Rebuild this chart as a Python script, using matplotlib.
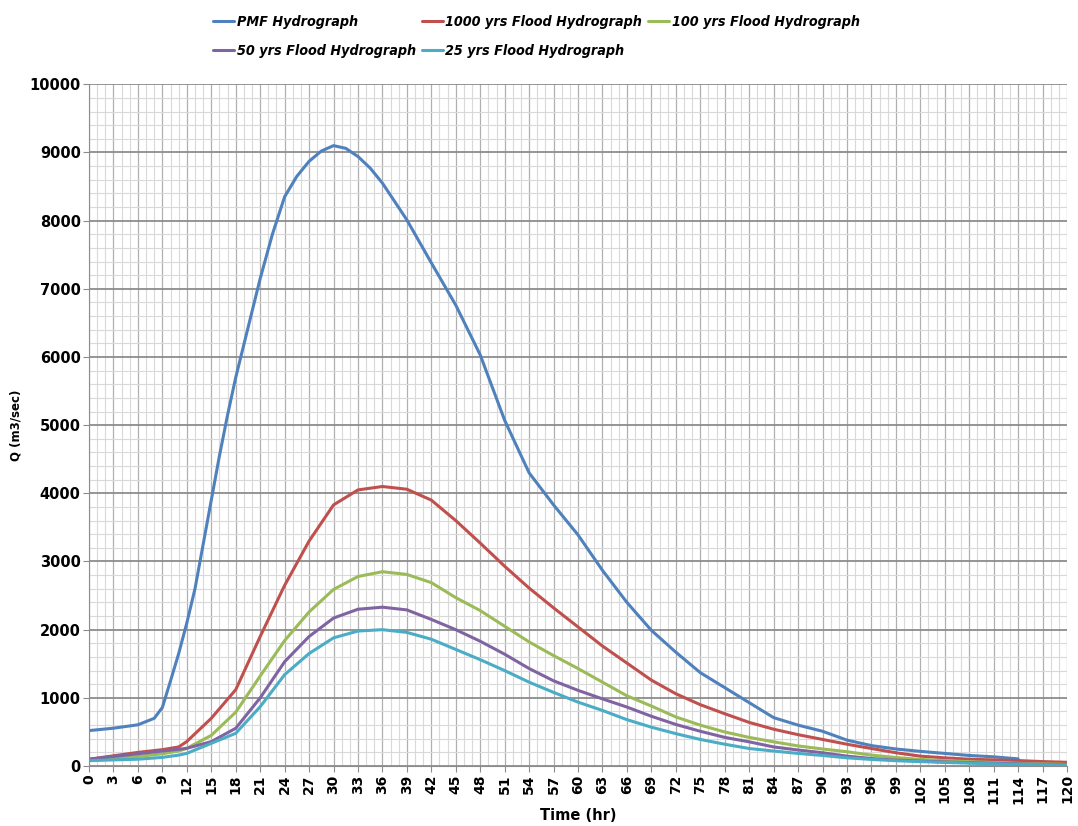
import matplotlib
matplotlib.use('Agg')
import matplotlib.pyplot as plt
import numpy as np

# readings (hr, m3/sec)
t_pmf = [0, 3, 6, 8, 9, 10, 11, 12, 13, 14, 15, 16, 17, 18, 21, 22.5, 24, 25.5,
         27, 28.5, 30, 31.5, 33, 34.5, 36, 39, 42, 45, 48, 51, 54, 57, 60, 63, 66,
         69, 72, 75, 78, 81, 84, 87, 90, 93, 96, 99, 102, 105, 108, 111, 114]
q_pmf = [520, 555, 605, 700, 860, 1250, 1650, 2100, 2600, 3250, 3900, 4550, 5150,
         5700, 7150, 7800, 8350, 8650, 8870, 9020, 9100, 9060, 8940, 8770, 8550,
         8010, 7380, 6760, 6030, 5070, 4300, 3830, 3390, 2870, 2400, 1990, 1670,
         1370, 1150, 930, 710, 600, 510, 380, 300, 250, 215, 185, 155, 135, 105]

t_std = [0, 3, 6, 9, 11, 12, 15, 18, 21, 24, 27, 30, 33, 36, 39, 42, 45, 48, 51,
         54, 57, 60, 63, 66, 69, 72, 75, 78, 81, 84, 87, 90, 93, 96, 99, 102,
         105, 108, 111, 114, 117, 120]

q_1000 = [100, 150, 200, 240, 280, 360, 700, 1120, 1900, 2650, 3300, 3830, 4050,
          4100, 4060, 3900, 3600, 3270, 2930, 2610, 2320, 2040, 1760, 1510, 1260,
          1060, 900, 767, 640, 540, 460, 390, 320, 257, 195, 145, 120, 100, 90,
          80, 65, 55]
q_100 = [90, 110, 140, 180, 220, 260, 450, 790, 1320, 1840, 2260, 2590, 2780,
         2850, 2810, 2690, 2470, 2280, 2050, 1820, 1620, 1430, 1230, 1030, 880,
         720, 600, 500, 420, 355, 295, 250, 210, 160, 125, 97, 80, 63, 52, 40,
         32, 25]
q_50 = [100, 140, 180, 220, 245, 260, 358, 554, 1000, 1530, 1900, 2170, 2300,
        2330, 2290, 2150, 2000, 1830, 1640, 1430, 1250, 1110, 985, 865, 730, 610,
        510, 420, 355, 280, 235, 195, 145, 110, 87, 73, 60, 50, 40, 32, 25, 20]
q_25 = [78, 90, 100, 127, 160, 186, 333, 480, 870, 1340, 1650, 1880, 1980, 2000,
        1960, 1860, 1710, 1560, 1400, 1230, 1080, 937, 815, 680, 570, 475, 390,
        320, 257, 220, 185, 155, 120, 97, 78, 65, 53, 42, 33, 25, 20, 15]

labels = ['PMF Hydrograph', '1000 yrs Flood Hydrograph', '100 yrs Flood Hydrograph',
          '50 yrs Flood Hydrograph', '25 yrs Flood Hydrograph']
colors = ['#4F81BD', '#C0504D', '#9BBB59', '#8064A2', '#4BACC6']

fig = plt.figure(figsize=(10.78, 8.26), dpi=100)
ax = fig.add_axes([0.0826, 0.0726, 0.9072, 0.8254])

series = [(t_pmf, q_pmf), (t_std, q_1000), (t_std, q_100), (t_std, q_50), (t_std, q_25)]
handles = []
for (t, q), lab, c in zip(series, labels, colors):
    h, = ax.plot(t, q, color=c, linewidth=2.2, label=lab, solid_joinstyle='round',
                 solid_capstyle='round')
    handles.append(h)

ax.set_xlim(0, 120)
ax.set_ylim(0, 10000)
ax.set_xticks(np.arange(0, 121, 3))
ax.set_xticks(np.arange(0, 121, 1), minor=True)
ax.set_yticks(np.arange(0, 10001, 1000))
ax.set_yticks(np.arange(0, 10001, 200), minor=True)

ax.grid(which='minor', axis='both', color='#d9d9d9', linewidth=0.8)
ax.grid(which='major', axis='x', color='#b0b0b0', linewidth=0.9)
ax.grid(which='major', axis='y', color='#8c8c8c', linewidth=1.3)
ax.set_axisbelow(True)

for s in ['top', 'right']:
    ax.spines[s].set_visible(False)
for s in ['left', 'bottom']:
    ax.spines[s].set_color('#8c8c8c')
ax.tick_params(which='minor', length=0)
ax.tick_params(which='major', length=4, color='#8c8c8c', pad=2)

ax.set_xticklabels([str(v) for v in range(0, 121, 3)], rotation=90,
                   fontsize=10, fontweight='bold')
ax.set_yticklabels([str(v) for v in range(0, 10001, 1000)], fontsize=10.5,
                   fontweight='bold')
ax.set_xlabel('Time (hr)', fontsize=10.5, fontweight='bold', labelpad=3)
ax.set_ylabel('Q (m3/sec)', fontsize=8.5, fontweight='bold', labelpad=5)

# legend fills column-wise, so order for row-wise reading as in the reference
order = [0, 3, 1, 4, 2]
fig.legend(handles=[handles[i] for i in order], labels=[labels[i] for i in order],
           loc='upper left', bbox_to_anchor=(0.186, 0.998),
           ncol=3, frameon=False, handlelength=1.45, handletextpad=0.2,
           columnspacing=0.4, labelspacing=1.05,
           prop={'family': 'DejaVu Sans', 'stretch': 'condensed',
                 'style': 'italic', 'weight': 'bold', 'size': 10.3})

fig.savefig('out.png', dpi=100)
